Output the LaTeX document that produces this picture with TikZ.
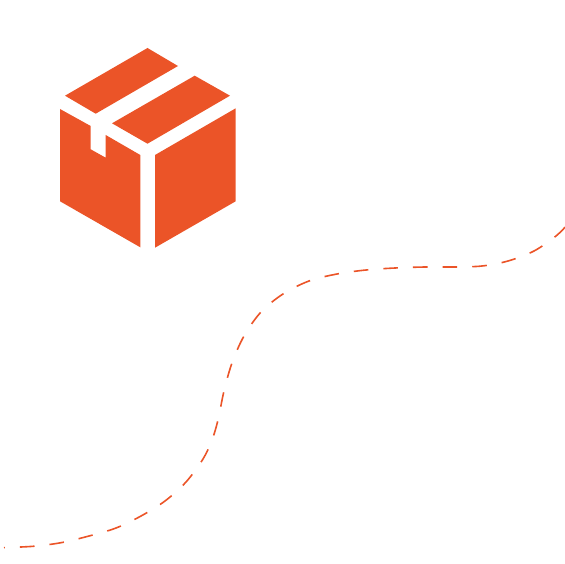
\documentclass[tikz,border=0pt]{standalone}
\usepackage[dvipsnames,svgnames,table]{xcolor}
\usepackage{tikz}
\definecolor{colbox}{HTML}{EB5428}
\tikzstyle{boxpart}=[fill=colbox, draw=none]
\tikzstyle{route}=[line width=1.6pt, colbox, dash pattern=on 14.6pt off 15.06pt, dash phase=13.7pt]

\begin{document}
\begin{tikzpicture}[x=1pt,y=-1pt]
      \useasboundingbox (0,0) rectangle (564,564);

      % Flaps on top of the box
      \fill[boxpart] (147.5,48) -- (178,66) -- (95.7,113.7) -- (65,95.7) -- cycle;
      \fill[boxpart] (194.7,75.7) -- (230,95.7) -- (147.5,143.7) -- (112,123.3) -- cycle;

      % Left face, with the notch of the tape
      \fill[boxpart] (60,109) -- (90.7,126) -- (90.7,149.3) -- (105.7,157.7) -- (105.7,135)
        -- (140.3,155) -- (140.3,247.3) -- (60,201.3) -- cycle;

      % Right face
      \fill[boxpart] (155,155) -- (235.7,108.3) -- (235.7,201.3) -- (155,247.7) -- cycle;

      % Dashed route
      \draw[route] plot[smooth, tension=0.55] coordinates {
        (4,547.6) (33,546.3) (61,542.7) (89,536) (116,528) (141,516) (165,501) (186,482)
        (203,459) (212,440) (218,420) (224,391) (232,363) (244,336) (261,312) (283,294)
        (309,281) (337,274) (366,270) (395,268) (425,267) (454,267) (482,266) (508,261)
        (534,251) (556,236) (567,225)};
    \end{tikzpicture}
\end{document}
